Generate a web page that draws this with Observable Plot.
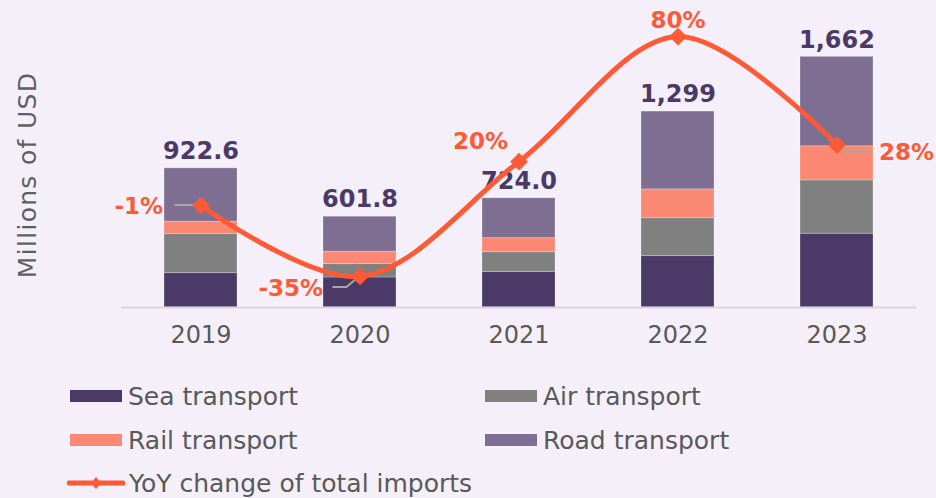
<!DOCTYPE html>
<html>
<head>
<meta charset="utf-8">
<script src="https://cdn.jsdelivr.net/npm/d3@7"></script>
<script src="https://cdn.jsdelivr.net/npm/@observablehq/plot@0.6"></script>
<style>
  html, body { margin: 0; padding: 0; background: #f5effa; }
  body { width: 936px; height: 498px; overflow: hidden; font-family: "DejaVu Sans", sans-serif; position: relative; }
  #chart { position: absolute; left: 0; top: 0; }
  #ylabel { position: absolute; left: 27px; top: 175px; transform: translate(-50%, -50%) rotate(-90deg); font-size: 25px; letter-spacing: 1.3px; color: #5f5f5f; white-space: nowrap; }
  #legend { position: absolute; left: 0; top: 365px; width: 936px; }
  .item { position: absolute; display: flex; align-items: center; height: 30px; font-size: 25px; color: #595959; }
  .sw { width: 52px; height: 12px; margin-right: 6px; }
  .lsw { width: 58px; height: 14px; margin-right: 4px; margin-left: -3px; }
</style>
</head>
<body>
<div id="chart"></div>
<div id="ylabel">Millions of USD</div>
<div id="legend"></div>
<script>
// ---- data ----
const years = ["2019", "2020", "2021", "2022", "2023"];
const modes = ["Sea transport", "Air transport", "Rail transport", "Road transport"];
const sea  = [228, 199, 236, 341, 489];
const air  = [259, 89, 131, 252, 354];
const rail = [82, 82, 93, 190, 226];
const road = [353.6, 231.8, 264, 516, 593];
const totals = [922.6, 601.8, 724.0, 1299, 1662];
const yoy = [-1, -35, 20, 80, 28];
const lineName = "YoY change of total imports";

// ---- styles ----
const colors = ["#4b3a68", "#808080", "#fa8872", "#7d6e92"];
const lineColor = "#ff5a36";
const series = [sea, air, rail, road];

const barData = [];
years.forEach((y, i) => modes.forEach((m, j) => barData.push({year: y, mode: m, value: series[j][i]})));
const totalData = years.map((y, i) => ({year: y, total: totals[i]}));
const yoyData = years.map((y, i) => ({year: y, pct: yoy[i]}));

// secondary axis (hidden) mapped into primary units
const yMax = 1903;
const y2 = d3.scaleLinear().domain([-49.9, 87.7]).range([0, yMax]);

// label offsets (pixels) for the YoY labels
const pctStyle = {
  "2019": {dx: -38, dy: 1, anchor: "end"},
  "2020": {dx: -37, dy: 12, anchor: "end"},
  "2021": {dx: -11, dy: -20, anchor: "end"},
  "2022": {dx: 0, dy: -16, anchor: "middle"},
  "2023": {dx: 42, dy: 8, anchor: "start"}
};

const fmt = v => v >= 1000 ? d3.format(",.0f")(v) : d3.format(".1f")(v);

const pctMarks = yoyData.map(d => Plot.text([d], {
  x: "year", y: e => y2(e.pct), text: e => `${e.pct}%`,
  dx: pctStyle[d.year].dx, dy: pctStyle[d.year].dy, textAnchor: pctStyle[d.year].anchor,
  fill: lineColor, fontSize: 23, fontWeight: "bold"
}));

const chart = Plot.plot({
  width: 936, height: 365,
  marginLeft: 121.5, marginRight: 19.5, marginTop: 20, marginBottom: 58,
  style: {background: "transparent", fontFamily: "DejaVu Sans, sans-serif"},
  x: {domain: years, paddingInner: 0.54, paddingOuter: 0.27, label: null},
  y: {domain: [0, yMax], axis: null},
  color: {domain: modes, range: colors},
  marks: [
    Plot.barY(barData, {x: "year", y: "value", fill: "mode", stroke: "#ffffff", strokeOpacity: 0.25, strokeWidth: 1}),
    Plot.ruleY([0], {stroke: "#d9d5dd", strokeWidth: 2}),
    Plot.axisX({tickSize: 0, tickPadding: 18, fontSize: 24, fill: "#595959", label: null}),
    Plot.text(totalData, {x: "year", y: "total", text: d => fmt(d.total), dy: -17, fontSize: 24, fontWeight: "bold", fill: "#4b3a68"}),
    Plot.line(yoyData, {x: "year", y: d => y2(d.pct), curve: "catmull-rom", stroke: lineColor, strokeWidth: 5}),
    Plot.dot(yoyData, {x: "year", y: d => y2(d.pct), symbol: "diamond2", r: 8, fill: lineColor}),
    ...pctMarks
  ]
});
document.getElementById("chart").appendChild(chart);

// leader lines from points to the offset labels
const xs = chart.scale("x"), ys = chart.scale("y");
const px = yr => xs.apply(yr) + xs.bandwidth / 2;
const py = i => ys.apply(y2(yoy[i]));
const leaders = [
  {i: 0, pts: [[-26, 0], [-1, 0]]},
  {i: 1, pts: [[-27, 11], [-13, 11], [0, 0]]},
  {i: 4, pts: [[0, 0], [11, 7], [33, 7]]}
];
const svg = d3.select(chart);
const firstDot = svg.selectAll("g[aria-label='dot']").node();
leaders.forEach(l => {
  const cx = px(years[l.i]), cy = py(l.i);
  const path = d3.line()(l.pts.map(p => [cx + p[0], cy + p[1]]));
  svg.insert("path", () => firstDot).attr("d", path).attr("fill", "none").attr("stroke", "#a6a6a6").attr("stroke-width", 2);
});

// legend
const legend = document.getElementById("legend");
const slots = [[70, 16], [485, 16], [70, 60], [485, 60]];
modes.forEach((m, j) => {
  const it = document.createElement("div");
  it.className = "item";
  it.style.left = slots[j][0] + "px"; it.style.top = slots[j][1] + "px";
  it.innerHTML = `<div class="sw" style="background:${colors[j]}"></div><span>${m}</span>`;
  legend.appendChild(it);
});
const li = document.createElement("div");
li.className = "item";
li.style.left = "70px"; li.style.top = "103px";
li.innerHTML = `<svg class="lsw" viewBox="0 0 58 14"><line x1="2" y1="7" x2="56" y2="7" stroke="${lineColor}" stroke-width="5" stroke-linecap="round"/><path d="M29 1 L34 7 L29 13 L24 7 Z" fill="${lineColor}"/></svg><span>${lineName}</span>`;
legend.appendChild(li);
</script>
</body>
</html>
